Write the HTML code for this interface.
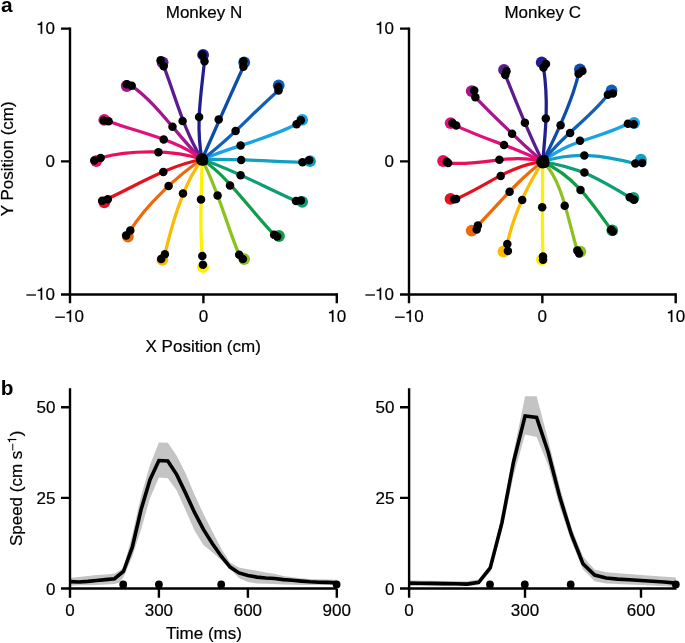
<!DOCTYPE html>
<html><head><meta charset="utf-8"><title>Figure</title>
<style>html,body{margin:0;padding:0;background:#fff;}svg{display:block;will-change:transform;}</style>
</head><body><svg width="685" height="643" viewBox="0 0 685 643" font-family="Liberation Sans, sans-serif"><rect width="685" height="643" fill="#fff"/><text x="0.9" y="11.6" font-size="20.9" font-weight="bold">a</text><text x="0.8" y="394.5" font-size="20.8" font-weight="bold">b</text><g font-size="17" fill="#000" stroke="#000" stroke-width="0.2"><text x="204" y="17.5" text-anchor="middle">Monkey N</text><text x="542.7" y="17.5" text-anchor="middle">Monkey C</text><text x="203.2" y="351.5" text-anchor="middle">X Position (cm)</text><text transform="translate(13,158.8) rotate(-90)" text-anchor="middle">Y Position (cm)</text><text x="204" y="638.5" text-anchor="middle">Time (ms)</text><g transform="translate(22.2,488.7) rotate(-90)"><text x="-57.396" y="0">Speed (cm s</text><rect x="38.21" y="-9.9" width="6.8" height="0.95" stroke="none"/><path d="M49.71,-6.00L49.71,-14.51L48.96,-14.51C48.83,-14.00 48.66,-13.80 48.28,-13.51C47.86,-13.20 47.32,-13.08 46.61,-13.03L46.61,-12.19L48.65,-12.19L48.65,-6.00Z"/><text x="52.4" y="0">)</text></g><path d="M42.17,33.80L42.17,21.75L41.11,21.75C40.92,22.46 40.69,22.75 40.14,23.16C39.55,23.60 38.78,23.77 37.78,23.84L37.78,25.03L40.67,25.03L40.67,33.80Z"/><text x="45.53" y="33.8">0</text><text x="55" y="166.8" text-anchor="end">0</text><rect x="26.38" y="294.35" width="9.6" height="1.3" stroke="none"/><path d="M42.17,299.80L42.17,287.75L41.11,287.75C40.92,288.46 40.69,288.75 40.14,289.16C39.55,289.60 38.78,289.77 37.78,289.84L37.78,291.03L40.67,291.03L40.67,299.80Z"/><text x="45.53" y="299.8">0</text><rect x="55.31" y="316.55" width="9.6" height="1.3" stroke="none"/><path d="M71.10,322.00L71.10,309.95L70.05,309.95C69.86,310.66 69.62,310.95 69.08,311.36C68.48,311.80 67.72,311.97 66.72,312.04L66.72,313.23L69.61,313.23L69.61,322.00Z"/><text x="74.47" y="322">0</text><text x="203.4" y="322" text-anchor="middle">0</text><path d="M333.43,322.00L333.43,309.95L332.38,309.95C332.19,310.66 331.96,310.95 331.41,311.36C330.82,311.80 330.05,311.97 329.05,312.04L329.05,313.23L331.94,313.23L331.94,322.00Z"/><text x="336.80" y="322">0</text><path d="M381.17,33.80L381.17,21.75L380.11,21.75C379.92,22.46 379.69,22.75 379.14,23.16C378.55,23.60 377.78,23.77 376.78,23.84L376.78,25.03L379.67,25.03L379.67,33.80Z"/><text x="384.53" y="33.8">0</text><text x="394" y="166.8" text-anchor="end">0</text><rect x="365.38" y="294.35" width="9.6" height="1.3" stroke="none"/><path d="M381.17,299.80L381.17,287.75L380.11,287.75C379.92,288.46 379.69,288.75 379.14,289.16C378.55,289.60 377.78,289.77 376.78,289.84L376.78,291.03L379.67,291.03L379.67,299.80Z"/><text x="384.53" y="299.8">0</text><rect x="395.11" y="316.55" width="9.6" height="1.3" stroke="none"/><path d="M410.90,322.00L410.90,309.95L409.85,309.95C409.66,310.66 409.42,310.95 408.88,311.36C408.29,311.80 407.52,311.97 406.52,312.04L406.52,313.23L409.41,313.23L409.41,322.00Z"/><text x="414.27" y="322">0</text><text x="542.35" y="322" text-anchor="middle">0</text><path d="M672.33,322.00L672.33,309.95L671.28,309.95C671.09,310.66 670.86,310.95 670.31,311.36C669.72,311.80 668.95,311.97 667.95,312.04L667.95,313.23L670.84,313.23L670.84,322.00Z"/><text x="675.70" y="322">0</text></g><g stroke="#000" stroke-width="2.4" fill="none"><path d="M70,27.4V294.5H336.8"/><path d="M61,28.6H70 M61,161.4H70 M61,294.5H70 M70,294.5V303.3 M203.4,294.5V303.3 M336.8,293.3V303.3"/><path d="M409,27.4V294.5H675.7"/><path d="M400,28.6H409 M400,161.4H409 M400,294.5H409 M409,294.5V303.3 M542.35,294.5V303.3 M675.7,293.3V303.3"/></g><circle cx="310" cy="161.2" r="5.9" fill="#10a0c4"/><circle cx="302.2" cy="119.9" r="5.9" fill="#18a2e8"/><circle cx="278.7" cy="85.4" r="5.9" fill="#0e60ba"/><circle cx="244.2" cy="62.4" r="5.9" fill="#0d4ca8"/><circle cx="203.1" cy="54.9" r="5.9" fill="#211f8e"/><circle cx="162.6" cy="62.3" r="5.9" fill="#5c1c8e"/><circle cx="126.7" cy="86" r="5.9" fill="#a4168e"/><circle cx="104.3" cy="119.9" r="5.9" fill="#e2107c"/><circle cx="96.2" cy="161.1" r="5.9" fill="#e80f5c"/><circle cx="104.3" cy="202.3" r="5.9" fill="#e6101e"/><circle cx="127.9" cy="236.6" r="5.9" fill="#ec6a0a"/><circle cx="162.4" cy="259.8" r="5.9" fill="#fbbb00"/><circle cx="203" cy="267.2" r="5.9" fill="#fdf000"/><circle cx="244.2" cy="259.1" r="5.9" fill="#8cc21e"/><circle cx="279" cy="236" r="5.9" fill="#0e9e48"/><circle cx="302.2" cy="201.8" r="5.9" fill="#0e9e76"/><path d="M202.00,159.50C235.48,158.79 269.09,161.24 302.50,162.30" fill="none" stroke="#10a0c4" stroke-width="3.25" stroke-linecap="round" stroke-linejoin="round"/><path d="M202.00,159.50C232.70,146.28 267.06,139.35 296.60,124.30" fill="none" stroke="#18a2e8" stroke-width="3.25" stroke-linecap="round" stroke-linejoin="round"/><path d="M202.00,159.50C230.36,139.36 252.10,113.31 278.50,90.40" fill="none" stroke="#0e60ba" stroke-width="3.25" stroke-linecap="round" stroke-linejoin="round"/><path d="M202.00,159.50C215.74,128.33 229.19,97.86 243.40,66.80" fill="none" stroke="#0d4ca8" stroke-width="3.25" stroke-linecap="round" stroke-linejoin="round"/><path d="M202.00,159.50C195.53,124.69 201.01,95.23 204.50,61.20" fill="none" stroke="#211f8e" stroke-width="3.25" stroke-linecap="round" stroke-linejoin="round"/><path d="M202.00,159.50C183.26,129.15 176.32,98.96 163.70,66.20" fill="none" stroke="#5c1c8e" stroke-width="3.25" stroke-linecap="round" stroke-linejoin="round"/><path d="M202.00,159.50C178.16,137.13 158.46,104.45 131.70,85.80" fill="none" stroke="#a4168e" stroke-width="3.25" stroke-linecap="round" stroke-linejoin="round"/><path d="M202.00,159.50C177.89,139.57 137.03,132.27 108.60,121.20" fill="none" stroke="#e2107c" stroke-width="3.25" stroke-linecap="round" stroke-linejoin="round"/><path d="M202.00,159.50C174.58,149.23 128.30,149.93 100.60,157.90" fill="none" stroke="#e80f5c" stroke-width="3.25" stroke-linecap="round" stroke-linejoin="round"/><path d="M202.00,159.50C167.49,165.39 133.85,187.15 102.40,201.20" fill="none" stroke="#e6101e" stroke-width="3.25" stroke-linecap="round" stroke-linejoin="round"/><path d="M202.00,159.50C177.87,174.79 145.90,205.52 130.30,230.40" fill="none" stroke="#ec6a0a" stroke-width="3.25" stroke-linecap="round" stroke-linejoin="round"/><path d="M202.00,159.50C183.36,183.55 171.82,224.45 164.90,254.20" fill="none" stroke="#fbbb00" stroke-width="3.25" stroke-linecap="round" stroke-linejoin="round"/><path d="M202.00,159.50C201.87,192.20 199.01,223.15 202.30,256.00" fill="none" stroke="#fdf000" stroke-width="3.25" stroke-linecap="round" stroke-linejoin="round"/><path d="M202.00,159.50C218.03,189.45 226.07,223.59 239.20,254.80" fill="none" stroke="#8cc21e" stroke-width="3.25" stroke-linecap="round" stroke-linejoin="round"/><path d="M202.00,159.50C229.56,177.63 250.84,211.06 274.10,234.70" fill="none" stroke="#0e9e48" stroke-width="3.25" stroke-linecap="round" stroke-linejoin="round"/><path d="M202.00,159.50C234.21,169.97 265.10,187.45 296.00,201.00" fill="none" stroke="#0e9e76" stroke-width="3.25" stroke-linecap="round" stroke-linejoin="round"/><circle cx="241.2" cy="159.9" r="4.25"/><circle cx="302.5" cy="162.3" r="4.25"/><circle cx="309.2" cy="160.3" r="4.25"/><circle cx="240.6" cy="145.4" r="4.25"/><circle cx="296.6" cy="124.3" r="4.25"/><circle cx="300.9" cy="120.2" r="4.25"/><circle cx="235.6" cy="131.1" r="4.25"/><circle cx="278.5" cy="90.4" r="4.25"/><circle cx="278.2" cy="86.7" r="4.25"/><circle cx="218.7" cy="119.6" r="4.25"/><circle cx="243.4" cy="66.8" r="4.25"/><circle cx="243.4" cy="61.2" r="4.25"/><circle cx="199.1" cy="116.9" r="4.25"/><circle cx="204.5" cy="61.2" r="4.25"/><circle cx="202.3" cy="54.7" r="4.25"/><circle cx="182.6" cy="121" r="4.25"/><circle cx="163.7" cy="66.2" r="4.25"/><circle cx="160.6" cy="60.2" r="4.25"/><circle cx="172.5" cy="126.8" r="4.25"/><circle cx="131.7" cy="85.8" r="4.25"/><circle cx="126.7" cy="84.2" r="4.25"/><circle cx="163.7" cy="139.6" r="4.25"/><circle cx="108.6" cy="121.2" r="4.25"/><circle cx="103.7" cy="120.5" r="4.25"/><circle cx="158.4" cy="152.3" r="4.25"/><circle cx="100.6" cy="157.9" r="4.25"/><circle cx="94.3" cy="160.4" r="4.25"/><circle cx="163.3" cy="171.9" r="4.25"/><circle cx="107.8" cy="199.2" r="4.25"/><circle cx="102.2" cy="200.8" r="4.25"/><circle cx="168.6" cy="186.1" r="4.25"/><circle cx="130.3" cy="230.4" r="4.25"/><circle cx="126.1" cy="235.4" r="4.25"/><circle cx="183" cy="193.6" r="4.25"/><circle cx="164.9" cy="254.2" r="4.25"/><circle cx="161.2" cy="259.1" r="4.25"/><circle cx="201" cy="199.6" r="4.25"/><circle cx="202.3" cy="256" r="4.25"/><circle cx="202.9" cy="264.7" r="4.25"/><circle cx="217.6" cy="195.5" r="4.25"/><circle cx="239.2" cy="254.8" r="4.25"/><circle cx="242.9" cy="259.1" r="4.25"/><circle cx="230" cy="185.4" r="4.25"/><circle cx="274.1" cy="234.7" r="4.25"/><circle cx="277.2" cy="236.6" r="4.25"/><circle cx="240.6" cy="175.2" r="4.25"/><circle cx="296" cy="201" r="4.25"/><circle cx="300.9" cy="200.4" r="4.25"/><circle cx="202" cy="159.5" r="6.2"/><circle cx="640.9" cy="159.7" r="5.9" fill="#10a0c4"/><circle cx="634.1" cy="123" r="5.9" fill="#18a2e8"/><circle cx="611.6" cy="90.5" r="5.9" fill="#0e60ba"/><circle cx="579.9" cy="69.3" r="5.9" fill="#0d4ca8"/><circle cx="541.7" cy="62.4" r="5.9" fill="#211f8e"/><circle cx="504" cy="69.9" r="5.9" fill="#5c1c8e"/><circle cx="471.7" cy="91.1" r="5.9" fill="#a4168e"/><circle cx="450.6" cy="123.1" r="5.9" fill="#e2107c"/><circle cx="443.1" cy="161" r="5.9" fill="#e80f5c"/><circle cx="450.5" cy="198.9" r="5.9" fill="#e6101e"/><circle cx="471.7" cy="230.6" r="5.9" fill="#ec6a0a"/><circle cx="503.5" cy="251.5" r="5.9" fill="#fbbb00"/><circle cx="541.8" cy="259.7" r="5.9" fill="#fdf000"/><circle cx="580.4" cy="251.6" r="5.9" fill="#8cc21e"/><circle cx="612.3" cy="230.3" r="5.9" fill="#0e9e48"/><circle cx="633.5" cy="197.9" r="5.9" fill="#0e9e76"/><path d="M542.70,161.80C574.77,151.01 603.46,155.34 635.30,163.50" fill="none" stroke="#10a0c4" stroke-width="3.25" stroke-linecap="round" stroke-linejoin="round"/><path d="M542.70,161.80C569.70,139.52 598.06,138.86 627.90,123.70" fill="none" stroke="#18a2e8" stroke-width="3.25" stroke-linecap="round" stroke-linejoin="round"/><path d="M542.70,161.80C561.67,135.97 588.39,119.71 607.90,94.80" fill="none" stroke="#0e60ba" stroke-width="3.25" stroke-linecap="round" stroke-linejoin="round"/><path d="M542.70,161.80C555.84,135.98 572.03,102.58 578.60,73.70" fill="none" stroke="#0d4ca8" stroke-width="3.25" stroke-linecap="round" stroke-linejoin="round"/><path d="M542.70,161.80C545.82,128.85 548.56,100.24 543.50,67.40" fill="none" stroke="#211f8e" stroke-width="3.25" stroke-linecap="round" stroke-linejoin="round"/><path d="M542.70,161.80C528.34,133.31 517.06,104.26 505.30,74.90" fill="none" stroke="#5c1c8e" stroke-width="3.25" stroke-linecap="round" stroke-linejoin="round"/><path d="M542.70,161.80C519.81,141.36 496.81,119.38 475.40,97.30" fill="none" stroke="#a4168e" stroke-width="3.25" stroke-linecap="round" stroke-linejoin="round"/><path d="M542.70,161.80C515.28,146.87 483.96,139.45 456.20,125.60" fill="none" stroke="#e2107c" stroke-width="3.25" stroke-linecap="round" stroke-linejoin="round"/><path d="M542.70,161.80C511.65,152.23 479.49,166.93 448.10,162.90" fill="none" stroke="#e80f5c" stroke-width="3.25" stroke-linecap="round" stroke-linejoin="round"/><path d="M542.70,161.80C511.54,164.16 484.84,186.91 456.10,198.90" fill="none" stroke="#e6101e" stroke-width="3.25" stroke-linecap="round" stroke-linejoin="round"/><path d="M542.70,161.80C518.09,179.46 498.98,203.99 477.90,225.40" fill="none" stroke="#ec6a0a" stroke-width="3.25" stroke-linecap="round" stroke-linejoin="round"/><path d="M542.70,161.80C527.60,184.45 512.53,217.37 507.30,244.10" fill="none" stroke="#fbbb00" stroke-width="3.25" stroke-linecap="round" stroke-linejoin="round"/><path d="M542.70,161.80C542.74,193.54 541.69,224.90 543.00,256.60" fill="none" stroke="#fdf000" stroke-width="3.25" stroke-linecap="round" stroke-linejoin="round"/><path d="M542.70,161.80C562.70,179.00 569.12,225.73 577.30,250.40" fill="none" stroke="#8cc21e" stroke-width="3.25" stroke-linecap="round" stroke-linejoin="round"/><path d="M542.70,161.80C575.07,176.65 591.32,202.07 611.10,229.70" fill="none" stroke="#0e9e48" stroke-width="3.25" stroke-linecap="round" stroke-linejoin="round"/><path d="M542.70,161.80C580.22,167.56 597.06,177.97 629.70,197.30" fill="none" stroke="#0e9e76" stroke-width="3.25" stroke-linecap="round" stroke-linejoin="round"/><circle cx="584.3" cy="155.4" r="4.25"/><circle cx="635.3" cy="163.5" r="4.25"/><circle cx="642.2" cy="162.9" r="4.25"/><circle cx="580" cy="140.8" r="4.25"/><circle cx="627.9" cy="123.7" r="4.25"/><circle cx="633.7" cy="124.3" r="4.25"/><circle cx="570.1" cy="132.9" r="4.25"/><circle cx="607.9" cy="94.8" r="4.25"/><circle cx="612.9" cy="93.6" r="4.25"/><circle cx="560.6" cy="125.3" r="4.25"/><circle cx="578.6" cy="73.7" r="4.25"/><circle cx="582.4" cy="70.9" r="4.25"/><circle cx="545.8" cy="118.4" r="4.25"/><circle cx="543.5" cy="67.4" r="4.25"/><circle cx="546" cy="63.9" r="4.25"/><circle cx="524.9" cy="122.8" r="4.25"/><circle cx="505.3" cy="74.9" r="4.25"/><circle cx="506.5" cy="71.2" r="4.25"/><circle cx="512.1" cy="133.7" r="4.25"/><circle cx="475.4" cy="97.3" r="4.25"/><circle cx="474.2" cy="90.4" r="4.25"/><circle cx="504" cy="144.9" r="4.25"/><circle cx="456.2" cy="125.6" r="4.25"/><circle cx="452.4" cy="123.1" r="4.25"/><circle cx="499.4" cy="159.8" r="4.25"/><circle cx="448.1" cy="162.9" r="4.25"/><circle cx="446.8" cy="161.7" r="4.25"/><circle cx="500.7" cy="176" r="4.25"/><circle cx="456.1" cy="198.9" r="4.25"/><circle cx="454.3" cy="199.2" r="4.25"/><circle cx="509.6" cy="191.7" r="4.25"/><circle cx="477.9" cy="225.4" r="4.25"/><circle cx="476.7" cy="229.5" r="4.25"/><circle cx="522.2" cy="199.9" r="4.25"/><circle cx="507.3" cy="244.1" r="4.25"/><circle cx="507.9" cy="250.9" r="4.25"/><circle cx="542.2" cy="207.3" r="4.25"/><circle cx="543" cy="256.6" r="4.25"/><circle cx="543" cy="259.7" r="4.25"/><circle cx="564.7" cy="205.7" r="4.25"/><circle cx="577.3" cy="250.4" r="4.25"/><circle cx="579.1" cy="253.5" r="4.25"/><circle cx="580.5" cy="189.9" r="4.25"/><circle cx="611.1" cy="229.7" r="4.25"/><circle cx="612.9" cy="231.5" r="4.25"/><circle cx="584.4" cy="172.6" r="4.25"/><circle cx="629.7" cy="197.3" r="4.25"/><circle cx="634.1" cy="199.8" r="4.25"/><circle cx="542.7" cy="161.8" r="6.6"/><circle cx="544.6" cy="159.2" r="4.25"/><circle cx="545.3" cy="163.6" r="4.25"/><circle cx="204" cy="161.3" r="4.25"/><path d="M70.0,578.0 L78.9,577.1 L87.8,576.0 L96.7,575.1 L105.6,574.4 L114.5,573.6 L123.4,568.2 L132.3,534.8 L141.1,495.7 L150.0,464.9 L158.9,442.4 L167.8,442.7 L176.7,455.8 L185.6,473.2 L194.5,494.6 L203.4,513.8 L212.3,531.2 L221.2,548.6 L230.1,562.4 L239.0,567.5 L247.9,569.3 L256.8,570.7 L265.7,572.4 L274.5,573.8 L283.4,576.0 L292.3,577.3 L301.2,578.3 L310.1,578.9 L319.0,579.3 L327.9,579.6 L336.8,579.8 L336.8,584.9 L301.2,584.9 L283.4,584.5 L274.5,584.1 L265.7,583.8 L256.8,583.4 L247.9,582.0 L239.0,578.0 L230.1,568.9 L221.2,559.9 L212.3,552.2 L203.4,545.0 L194.5,530.5 L185.6,510.2 L176.7,490.6 L167.8,478.3 L158.9,477.5 L150.0,498.2 L141.1,529.4 L132.3,556.6 L123.4,577.6 L118.9,582.7 L114.5,584.1 L105.6,584.5 L96.7,584.9 L87.8,585.2 L78.9,585.2 L70.0,585.8Z" fill="#c4c4c4"/><path d="M409.1,580.5 L467.1,581.2 L478.7,579.4 L490.3,564.6 L501.9,516.7 L513.5,452.5 L525.1,396.3 L536.6,396.3 L548.2,439.8 L559.8,487.0 L571.4,527.6 L583.0,556.6 L594.6,569.6 L606.2,572.2 L641.0,575.1 L675.8,577.6 L675.8,586.7 L641.0,584.9 L606.2,583.4 L594.6,581.2 L583.0,569.6 L571.4,541.4 L559.8,506.9 L548.2,465.2 L536.6,436.9 L525.1,434.4 L513.5,476.1 L501.9,530.5 L490.3,571.8 L478.7,584.9 L467.1,586.3 L409.1,586.0Z" fill="#c4c4c4"/><g stroke="#000" stroke-width="2.4" fill="none"><path d="M70,388.2V588.5H336.8"/><path d="M61,407.2H70 M61,497.9H70 M61,588.5H70 M70,588.5V597.7 M158.9,588.5V597.7 M247.9,588.5V597.7 M336.8,588.5V597.7"/><path d="M409.1,388.2V588.5H676.5"/><path d="M400,407.2H409.1 M400,497.9H409.1 M400,588.5H409.1 M409.1,588.5V597.7 M525,588.5V597.7 M641,588.5V597.7"/></g><path d="M70.0,581.6 L78.9,582.0 L87.8,581.4 L96.7,580.5 L105.6,579.6 L114.5,578.7 L123.4,571.5 L132.3,547.2 L141.1,509.5 L150.0,479.7 L158.9,460.5 L167.8,460.9 L176.7,474.6 L185.6,493.1 L194.5,512.4 L203.4,529.4 L212.3,543.5 L221.2,556.2 L230.1,567.1 L239.0,572.9 L247.9,575.4 L256.8,577.1 L265.7,578.0 L274.5,578.5 L283.4,579.6 L292.3,580.3 L301.2,581.1 L310.1,581.8 L319.0,582.2 L327.9,582.4 L336.8,582.7" fill="none" stroke="#000" stroke-width="3.6" stroke-linejoin="miter"/><path d="M409.1,583.1 L420.7,583.2 L432.3,583.4 L443.9,583.6 L455.5,583.8 L467.1,584.1 L478.7,582.3 L490.3,567.8 L501.9,522.9 L513.5,462.0 L525.1,415.9 L536.6,417.4 L548.2,452.2 L559.8,497.1 L571.4,534.5 L583.0,563.8 L594.6,575.1 L606.2,578.0 L617.8,579.1 L629.4,579.8 L641.0,580.5 L652.6,581.2 L664.2,582.0 L675.8,583.1" fill="none" stroke="#000" stroke-width="3.6" stroke-linejoin="miter"/><circle cx="123.2" cy="584.4" r="3.9"/><circle cx="158.9" cy="584.4" r="3.9"/><circle cx="221.2" cy="584.4" r="3.9"/><circle cx="336.6" cy="584.4" r="3.9"/><circle cx="490" cy="584.4" r="3.9"/><circle cx="524.8" cy="584.4" r="3.9"/><circle cx="570.7" cy="584.4" r="3.9"/><circle cx="675.8" cy="584.4" r="3.9"/><g font-size="17" stroke="#000" stroke-width="0.2"><text x="55.5" y="412.8" text-anchor="end">50</text><text x="394.5" y="412.8" text-anchor="end">50</text><text x="55.5" y="503.5" text-anchor="end">25</text><text x="394.5" y="503.5" text-anchor="end">25</text><text x="55.5" y="594.5" text-anchor="end">0</text><text x="394.5" y="594.5" text-anchor="end">0</text><text x="70" y="616" text-anchor="middle">0</text><text x="158.9" y="616" text-anchor="middle">300</text><text x="247.9" y="616" text-anchor="middle">600</text><text x="336.8" y="616" text-anchor="middle">900</text><text x="409.1" y="616" text-anchor="middle">0</text><text x="525" y="616" text-anchor="middle">300</text><text x="641" y="616" text-anchor="middle">600</text></g></svg></body></html>
